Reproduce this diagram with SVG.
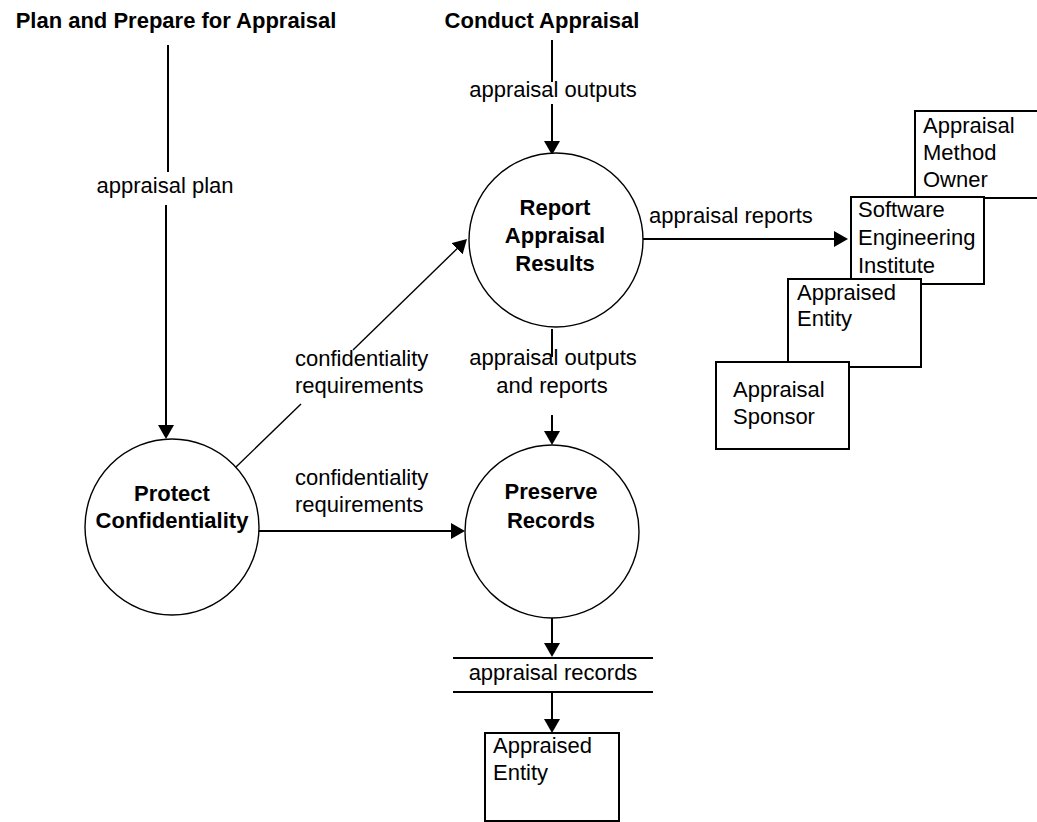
<svg xmlns="http://www.w3.org/2000/svg" width="1037" height="822" viewBox="0 0 1037 822">
<defs>
<style>
text{font-family:"Liberation Sans",Arial,Helvetica,sans-serif;font-size:22px;fill:#000}
.b{font-weight:bold}
.m{text-anchor:middle}
.proc{fill:#fff;stroke:#000;stroke-width:1.4}
.box{fill:#fff;stroke:#000;stroke-width:2}
.ln{fill:none;stroke:#000;stroke-width:2}
.thin{fill:none;stroke:#000;stroke-width:1.4}
</style>
<marker id="ah" markerUnits="userSpaceOnUse" markerWidth="14" markerHeight="16" refX="8" refY="8" orient="auto">
<path d="M0,0 L14,8 L0,16 Z" fill="#000"/>
</marker>
</defs>
<rect width="1037" height="822" fill="#fff"/>

<g id="titles">
<text class="b m" x="176" y="28">Plan and Prepare for Appraisal</text>
<text class="b m" x="542" y="28">Conduct Appraisal</text>
</g>

<g id="connectors">
<line class="ln" x1="168" y1="45" x2="168" y2="172"/>
<line class="ln" x1="166" y1="205" x2="166" y2="433" marker-end="url(#ah)"/>
<text class="m" x="165" y="193">appraisal plan</text>

<line class="ln" x1="552" y1="40" x2="552" y2="82"/>
<line class="ln" x1="552" y1="104" x2="552" y2="149" marker-end="url(#ah)"/>
<text class="m" x="553" y="97">appraisal outputs</text>

<line class="ln" x1="643" y1="239" x2="842" y2="239" marker-end="url(#ah)"/>
<text x="649" y="223">appraisal reports</text>

<line class="ln" x1="552" y1="329" x2="552" y2="357"/>
<line class="ln" x1="552" y1="415" x2="552" y2="439" marker-end="url(#ah)"/>
<text class="m" x="553" y="365">appraisal outputs</text>
<text class="m" x="552" y="393">and reports</text>

<line class="thin" x1="236" y1="467" x2="301" y2="404"/>
<line class="thin" x1="353" y1="350" x2="462.7" y2="243.2" marker-end="url(#ah)"/>
<text x="295" y="366">confidentiality</text>
<text x="295" y="393">requirements</text>

<line class="ln" x1="259" y1="531" x2="459" y2="531" marker-end="url(#ah)"/>
<text x="295" y="485">confidentiality</text>
<text x="295" y="512">requirements</text>

<line class="ln" x1="552" y1="618" x2="552" y2="651" marker-end="url(#ah)"/>
<line class="ln" x1="552" y1="692" x2="552" y2="727" marker-end="url(#ah)"/>
</g>

<g id="report-appraisal-results">
<ellipse class="proc" cx="556" cy="240" rx="87" ry="87"/>
<text class="b m" x="555" y="215">Report</text>
<text class="b m" x="555" y="243">Appraisal</text>
<text class="b m" x="555" y="271">Results</text>
</g>

<g id="protect-confidentiality">
<ellipse class="proc" cx="172" cy="527" rx="87" ry="88"/>
<text class="b m" x="172" y="501">Protect</text>
<text class="b m" x="172" y="528">Confidentiality</text>
</g>

<g id="preserve-records">
<ellipse class="proc" cx="552" cy="531.5" rx="87" ry="86.5"/>
<text class="b m" x="551" y="499">Preserve</text>
<text class="b m" x="551" y="528">Records</text>
</g>

<g id="appraisal-records">
<line class="ln" x1="453" y1="658" x2="653" y2="658"/>
<line class="ln" x1="453" y1="692" x2="653" y2="692"/>
<text class="m" x="553" y="680">appraisal records</text>
</g>

<g id="appraisal-method-owner">
<rect class="box" x="915" y="111" width="130" height="87"/>
<text x="923" y="133">Appraisal</text>
<text x="923" y="160">Method</text>
<text x="923" y="187">Owner</text>
</g>

<g id="software-engineering-institute">
<rect class="box" x="851" y="197" width="133" height="87"/>
<text x="858" y="217">Software</text>
<text x="858" y="245">Engineering</text>
<text x="858" y="273">Institute</text>
</g>

<g id="appraised-entity-top">
<rect class="box" x="788" y="279" width="133" height="88"/>
<text x="797" y="300">Appraised</text>
<text x="797" y="326">Entity</text>
</g>

<g id="appraisal-sponsor">
<rect class="box" x="716" y="362" width="133" height="87"/>
<text x="733" y="397">Appraisal</text>
<text x="733" y="424">Sponsor</text>
</g>

<g id="appraised-entity-bottom">
<rect class="box" x="485" y="733" width="134" height="88"/>
<text x="493" y="753">Appraised</text>
<text x="493" y="780">Entity</text>
</g>
</svg>
